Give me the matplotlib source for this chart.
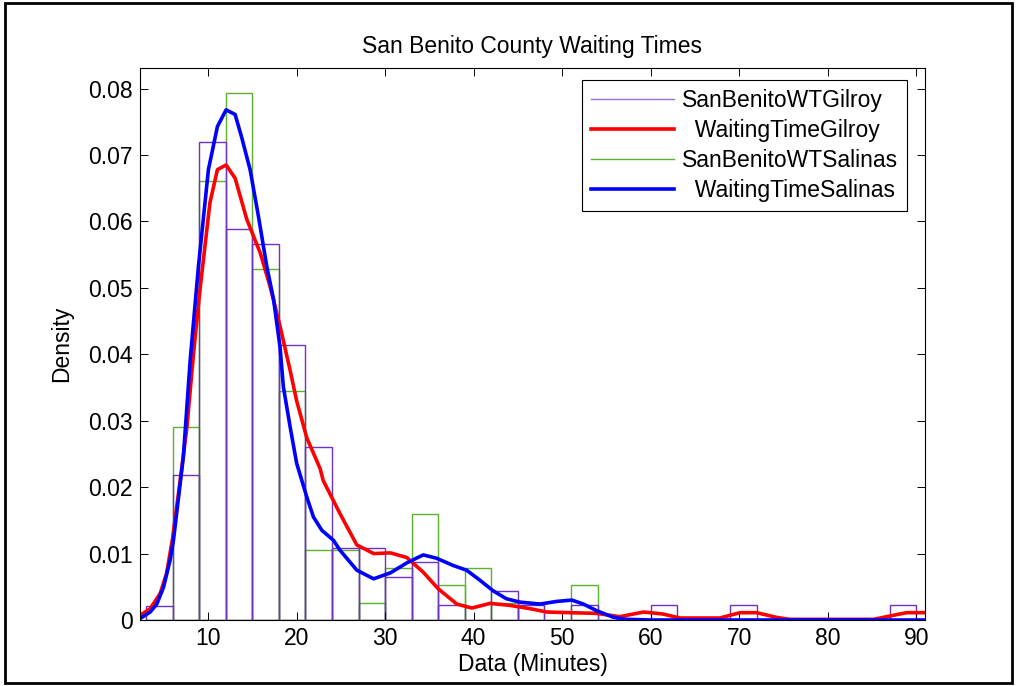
import numpy as np
import matplotlib.pyplot as plt
from matplotlib.lines import Line2D
from matplotlib.patches import Rectangle

plt.rcParams['font.family'] = ['Liberation Sans', 'DejaVu Sans']

# histogram bins (3 minute wide) and densities
bin_left = np.arange(3, 90, 3)
gilroy_hist = [0.00218, 0.0218, 0.0719, 0.0588, 0.0566, 0.0414, 0.0261, 0.0109, 0.0109, 0.0065,
               0.0087, 0.0022, 0.0, 0.0044, 0.0022, 0.0, 0.0022, 0.0, 0.0, 0.0022,
               0.0, 0.0, 0.0022, 0.0, 0.0, 0.0, 0.0, 0.0, 0.0022]
salinas_hist = [0.0, 0.0291, 0.0661, 0.0794, 0.0529, 0.0344, 0.0106, 0.0106, 0.0026, 0.0079,
                0.0159, 0.0053, 0.0079, 0.0026, 0.0026, 0.0, 0.0053, 0.0, 0.0, 0.0,
                0.0, 0.0, 0.0, 0.0, 0.0, 0.0, 0.0, 0.0, 0.0]

# kernel density curves
gilroy_x = [2.3, 3.45, 4.58, 5.3, 5.97, 6.84, 7.6, 8.34, 9.1, 10.2, 11.05, 12.03, 13.05, 14.37,
            15.9, 17.0, 18.13, 19.26, 20.0, 21.15, 22.65, 23.0, 24.9, 26.8, 28.7, 30.6, 32.45,
            34.3, 36.0, 38.1, 39.8, 41.85, 44.1, 46.4, 48.26, 50.9, 53.9, 56.5, 59.2, 61.4,
            63.3, 65.6, 67.8, 70.1, 72.0, 74.2, 75.7, 79.9, 85.2, 87.4, 88.9, 91.0]
gilroy_kde = [0.0007, 0.0017, 0.0040, 0.0070, 0.0122, 0.021, 0.029, 0.040, 0.050, 0.0628, 0.0678,
              0.0685, 0.0665, 0.0603, 0.0552, 0.0502, 0.0442, 0.0376, 0.033, 0.0274, 0.0228,
              0.021, 0.016, 0.0113, 0.0100, 0.0101, 0.0094, 0.0072, 0.0047, 0.0024, 0.0018,
              0.0025, 0.0022, 0.0017, 0.0012, 0.0011, 0.0010, 0.0005, 0.0012, 0.0009, 0.0003,
              0.0003, 0.0003, 0.0011, 0.0011, 0.0004, 0.0001, 0.0001, 0.0001, 0.0007, 0.0011,
              0.0011]
salinas_x = [2.3, 3.45, 4.2, 4.95, 5.7, 6.08, 7.2, 7.97, 8.9, 10.03, 11.05, 12.03, 13.05, 13.8,
             14.74, 15.68, 16.63, 17.4, 18.13, 18.5, 19.26, 20.0, 21.15, 21.9, 22.85, 24.16,
             24.9, 26.8, 28.7, 30.6, 32.45, 34.3, 35.8, 37.7, 39.2, 40.7, 42.2, 43.7, 45.2,
             47.5, 49.4, 51.1, 52.4, 53.9, 55.8, 57.3, 60, 70, 80, 91.0]
salinas_kde = [0.0002, 0.0012, 0.0024, 0.0049, 0.009, 0.0120, 0.0246, 0.0391, 0.0532, 0.0678,
               0.0743, 0.0768, 0.0761, 0.0726, 0.0678, 0.0608, 0.0532, 0.0482, 0.041, 0.0351,
               0.0291, 0.0236, 0.0185, 0.0155, 0.0135, 0.012, 0.0105, 0.0075, 0.0062, 0.0071,
               0.0086, 0.0098, 0.0093, 0.0082, 0.0075, 0.006, 0.0044, 0.0032, 0.0027, 0.0024,
               0.0028, 0.0030, 0.0024, 0.0014, 0.0004, 0.0001, 0, 0, 0, 0]

labels = ['SanBenitoWTGilroy', '  WaitingTimeGilroy', 'SanBenitoWTSalinas', '  WaitingTimeSalinas']
x_ticks = [10, 20, 30, 40, 50, 60, 70, 80, 90]
y_ticks = [0, 0.01, 0.02, 0.03, 0.04, 0.05, 0.06, 0.07, 0.08]
y_ticklabels = ['0', '0.01', '0.02', '0.03', '0.04', '0.05', '0.06', '0.07', '0.08']

purple = '#6f30c4'
green = '#5cb22a'
fs = 16.5

fig = plt.figure(figsize=(10.17, 6.86), dpi=100)
ax = fig.add_axes([140/1017, 1-620/686, 785/1017, 552/686])

# purple outlines sit on top of the green ones in the original
ax.bar(bin_left, salinas_hist, width=3, align='edge', fill=False, edgecolor=green, linewidth=1.0)
ax.bar(bin_left, gilroy_hist, width=3, align='edge', fill=False, edgecolor=purple, linewidth=1.0)
ax.plot(gilroy_x, gilroy_kde, color='red', linewidth=2.6)
ax.plot(salinas_x, salinas_kde, color='blue', linewidth=2.6)

ax.set_xlim(2.3, 91.0)
ax.set_ylim(0, 0.0831)
ax.set_xticks(x_ticks)
ax.set_yticks(y_ticks)
ax.set_yticklabels(y_ticklabels)
ax.tick_params(direction='in', length=5.6, width=0.7, top=True, right=True,
               labelsize=fs, pad=5)
for s in ax.spines.values():
    s.set_linewidth(0.8)

ax.set_title('San Benito County Waiting Times', fontsize=fs, pad=11)
ax.set_xlabel('Data (Minutes)', fontsize=fs, labelpad=2)
ax.set_ylabel('Density', fontsize=fs, labelpad=11)

handles = [Line2D([], [], color='#9a70dc', lw=1.0), Line2D([], [], color='red', lw=2.6),
           Line2D([], [], color=green, lw=1.0), Line2D([], [], color='blue', lw=2.6)]
leg = ax.legend(handles, labels, loc='upper right', bbox_to_anchor=(0.977, 0.978),
                borderaxespad=0, fontsize=fs, fancybox=False, framealpha=1,
                edgecolor='black', handlelength=3.6, handletextpad=0.35,
                labelspacing=0.3, borderpad=0.4)
leg.get_frame().set_linewidth(0.8)

# outer border around the whole figure
fig.patches.append(Rectangle((5/1017, 3/686), 1007/1017, 680/686, transform=fig.transFigure,
                             fill=False, edgecolor='black', linewidth=2))

fig.savefig('out.png', dpi=100)
